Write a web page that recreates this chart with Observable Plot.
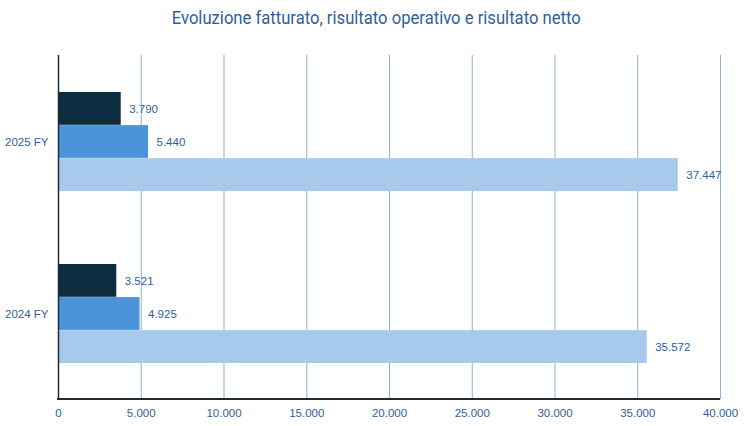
<!DOCTYPE html>
<html>
<head>
<meta charset="utf-8">
<script src="https://cdn.jsdelivr.net/npm/d3@7"></script>
<script src="https://cdn.jsdelivr.net/npm/@observablehq/plot@0.6"></script>
<style>
  body { margin: 0; background: #fff; }
  #title { height: 40px; line-height: 36px; text-align: center; white-space: nowrap; }
  #title span { display: inline-block; font-family: Roboto, sans-serif; font-size: 17.5px; color: #2e5f9c; transform-origin: center; }
</style>
</head>
<body>
<div id="title"><span>Evoluzione fatturato, risultato operativo e risultato netto</span></div>
<div id="chart"></div>
<script>
const years = ["2025 FY", "2024 FY"];
const series = ["Risultato netto", "Risultato operativo", "Fatturato"];
const netto = [3790, 3521];
const operativo = [5440, 4925];
const fatturato = [37447, 35572];
const xTicks = [0, 5000, 10000, 15000, 20000, 25000, 30000, 35000, 40000];
const colors = ["#0d2d40", "#4b94da", "#a7caec"];

const tspan = document.querySelector("#title span");
const tw = tspan.getBoundingClientRect().width;
tspan.style.transform = `scaleX(${409 / tw})`;

const values = [netto, operativo, fatturato];
const data = [];
series.forEach((s, si) => years.forEach((y, yi) => data.push({year: y, series: s, si, value: values[si][yi]})));

const it = d3.formatLocale({decimal: ",", thousands: ".", grouping: [3], currency: ["€", ""]});
const fmt = it.format(",d");

const H = 386, mTop = 15, mBottom = 27;
const padIn = 73 / 172, padOut = 36 / 172;
const plotH = H - mTop - mBottom;
const step = plotH / (years.length - padIn + 2 * padOut);
const bw = step * (1 - padIn);
const third = bw / 3;

const marks = [
  Plot.gridX(xTicks, {stroke: "#8fb0d8", strokeOpacity: 1, strokeWidth: 1})
];
series.forEach((s, si) => {
  const d = data.filter(r => r.si === si);
  marks.push(Plot.barX(d, {
    x: "value", y: "year", fill: colors[si],
    insetTop: si * third, insetBottom: (2 - si) * third
  }));
  marks.push(Plot.text(d, {
    x: "value", y: "year", text: r => fmt(r.value),
    dy: (si - 1) * third, dx: 8, textAnchor: "start",
    fill: "#2e5f9c", fontSize: 11.5, fontFamily: "Liberation Sans, Arial, sans-serif"
  }));
});
marks.push(Plot.ruleX([0], {stroke: "#1c2b38", strokeWidth: 1.5}));

const chart = Plot.plot({
  width: 753, height: H,
  marginTop: mTop, marginBottom: mBottom, marginLeft: 58, marginRight: 33,
  style: {fontFamily: "Liberation Sans, Arial, sans-serif", fontSize: "11.5px", color: "#2e5f9c", background: "white"},
  x: {domain: [0, 40000], ticks: xTicks, tickFormat: fmt, tickSize: 0, tickPadding: 9, label: null},
  y: {domain: years, paddingInner: padIn, paddingOuter: padOut, tickSize: 0, tickPadding: 10, label: null},
  marks
});
// baseline along the bottom of the plot area, x-extent from Plot's x scale
const xs = chart.scale("x");
const x0 = xs.apply(0), x1 = xs.apply(d3.max(xTicks));
d3.select(chart).append("rect")
  .attr("x", x0 - 1).attr("y", H - mBottom - 1)
  .attr("width", x1 - x0 + 1).attr("height", 2)
  .attr("fill", "#1c2b38");
document.getElementById("chart").appendChild(chart);
</script>
</body>
</html>
